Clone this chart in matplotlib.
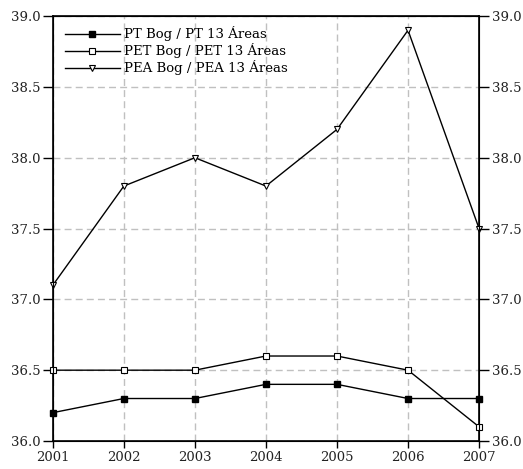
import matplotlib
matplotlib.use("Agg")
import matplotlib.pyplot as plt

years = [2001, 2002, 2003, 2004, 2005, 2006, 2007]
pt = [36.2, 36.3, 36.3, 36.4, 36.4, 36.3, 36.3]
pet = [36.5, 36.5, 36.5, 36.6, 36.6, 36.5, 36.1]
pea = [37.1, 37.8, 38.0, 37.8, 38.2, 38.9, 37.5]
labels = ["PT Bog / PT 13 Áreas", "PET Bog / PET 13 Áreas", "PEA Bog / PEA 13 Áreas"]
yticks = [36.0, 36.5, 37.0, 37.5, 38.0, 38.5, 39.0]

plt.rcParams['font.family'] = ['DejaVu Serif']
fig = plt.figure(figsize=(5.23, 4.69), dpi=100)
ax = fig.add_axes([0.101, 0.0597, 0.815, 0.906])

ax.plot(years, pt, color='black', lw=1, marker='s', ms=4.5, mfc='black', mec='black', label=labels[0], clip_on=False, zorder=3)
ax.plot(years, pet, color='black', lw=1, marker='s', ms=4.5, mfc='white', mec='black', mew=0.8, label=labels[1], clip_on=False, zorder=3)
ax.plot(years, pea, color='black', lw=1, marker='v', ms=4.5, mfc='white', mec='black', mew=0.8, label=labels[2], clip_on=False, zorder=3)

ax.set_xlim(2001, 2007)
ax.set_ylim(36.0, 39.0)
ax.set_xticks(years)
ax.set_yticks(yticks)
ax.set_yticklabels([f"{v:.1f}" for v in yticks])
ax.grid(True, color='#c0c0c0', linestyle=(0, (5, 3)), lw=1)
ax.set_axisbelow(True)
for s in ax.spines.values():
    s.set_linewidth(1.2)
ax.tick_params(axis='y', direction='out', length=7, width=1, labelsize=9.5, pad=2, labelcolor='#222222')
ax.tick_params(axis='x', direction='out', length=5, width=1, labelsize=9.5, pad=2, labelcolor='#222222')

ax2 = ax.twinx()
ax2.set_ylim(36.0, 39.0)
ax2.set_yticks(yticks)
ax2.set_yticklabels([f"{v:.1f}" for v in yticks])
ax2.tick_params(axis='y', direction='out', length=7, width=1, labelsize=9.5, pad=2, labelcolor='#222222')

leg = ax.legend(loc='upper left', frameon=False, fontsize=9.5, handlelength=4.2,
                handletextpad=0.3, borderpad=0, borderaxespad=0,
                bbox_to_anchor=(0.028, 0.976), labelspacing=0.15)

fig.savefig("out.png", dpi=100)
